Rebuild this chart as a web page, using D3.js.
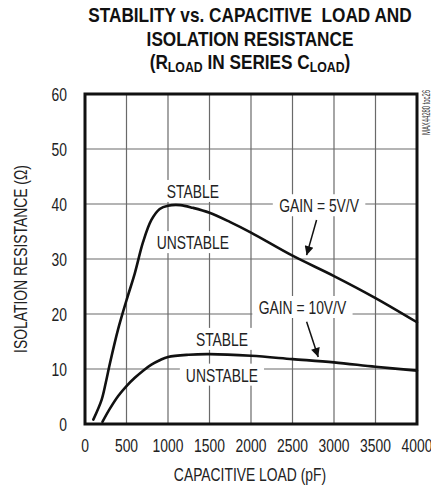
<!DOCTYPE html>
<html>
<head>
<meta charset="utf-8">
<script src="https://cdn.jsdelivr.net/npm/d3@7"></script>
<style>
body { margin: 0; background: #fff; }
svg { display: block; font-family: "Liberation Sans", Arial, sans-serif; }
</style>
</head>
<body>
<div id="chart"></div>
<script>
// values (pF, ohms)
var xTicks = [0, 500, 1000, 1500, 2000, 2500, 3000, 3500, 4000];
var yTicks = [0, 10, 20, 30, 40, 50, 60];

var gain5 = [[100, 0.8], [200, 4.4], [250, 7.5], [300, 11], [400, 17.3], [500, 22.5], [600, 27.4],
    [700, 33.1], [800, 37.1], [900, 39.1], [1000, 39.7], [1150, 39.8], [1300, 39.3], [1500, 38.4],
    [1750, 36.7], [2000, 34.8], [2500, 30.6], [3000, 26.9], [3500, 22.9], [4000, 18.5]];

var gain10 = [[210, 0.4], [300, 2.8], [400, 5.1], [500, 6.9], [600, 8.4], [700, 9.7], [800, 10.8],
    [900, 11.6], [1000, 12.2], [1250, 12.6], [1500, 12.7], [2000, 12.4], [2500, 11.8], [3000, 11.2],
    [3500, 10.4], [4000, 9.7]];

var notes = [
    {text: 'STABLE', x: 1300, y: 41.1},
    {text: 'UNSTABLE', x: 1300, y: 31.8},
    {text: 'GAIN = 5V/V', x: 2820, y: 38.5},
    {text: 'GAIN = 10V/V', x: 2620, y: 20},
    {text: 'STABLE', x: 1650, y: 14.2},
    {text: 'UNSTABLE', x: 1650, y: 7.7}
];

var arrows = [
    [[2790, 37.1], [2670, 30.7]],
    [[2670, 18.6], [2810, 12.2]]
];

var W = 431, H = 486;

var svg = d3.select('#chart').append('svg')
    .attr('width', W)
    .attr('height', H);

var x = d3.scaleLinear().domain([0, 4000]).range([85, 417]);
var y = d3.scaleLinear().domain([0, 60]).range([424, 94]);

// squeezed text, to fake the condensed face of the original
function label(parent, px, py, txt, sq, rot){
    return parent.append('text')
        .attr('transform', 'translate(' + px + ',' + py + ')' + (rot ? ' rotate(' + rot + ')' : '') + ' scale(' + sq + ',1)')
        .text(txt);
}

// title
var title = svg.append('g')
    .attr('font-weight', 'bold')
    .attr('font-size', 21)
    .attr('fill', '#111')
    .attr('text-anchor', 'middle');
label(title, 250, 22, 'STABILITY vs. CAPACITIVE\u00a0\u00a0LOAD AND', 0.82);
label(title, 250, 46, 'ISOLATION RESISTANCE', 0.82);
var t3 = label(title, 250, 69, '', 0.82);
t3.append('tspan').text('(R');
t3.append('tspan').attr('font-size', 15).attr('dy', 3).text('LOAD');
t3.append('tspan').attr('dy', -3).text(' IN SERIES C');
t3.append('tspan').attr('font-size', 15).attr('dy', 3).text('LOAD');
t3.append('tspan').attr('dy', -3).text(')');

// grid
var grid = svg.append('g').attr('stroke', '#6a6a6a').attr('stroke-width', 1.2);
grid.selectAll('.gx').data(xTicks).enter().append('line')
    .attr('x1', function(d){ return x(d); }).attr('x2', function(d){ return x(d); })
    .attr('y1', y(0)).attr('y2', y(60));
grid.selectAll('.gy').data(yTicks).enter().append('line')
    .attr('y1', function(d){ return y(d); }).attr('y2', function(d){ return y(d); })
    .attr('x1', x(0)).attr('x2', x(4000));

// tick labels
var tl = svg.append('g').attr('font-size', 18).attr('fill', '#222');
xTicks.forEach(function(d){
    label(tl, x(d), y(0) + 28, String(d), 0.77).attr('text-anchor', 'middle');
});
yTicks.forEach(function(d){
    label(tl, x(0) - 18, y(d) + 6.5, String(d), 0.77).attr('text-anchor', 'end');
});

// annotation text with white backing
var noteG = svg.append('g').attr('font-size', 19).attr('fill', '#222');
notes.forEach(function(n){
    var g = noteG.append('g');
    var t = label(g, x(n.x), y(n.y), n.text, 0.73).attr('text-anchor', 'middle');
    var w = t.node().getBBox().width * 0.73;
    g.insert('rect', 'text')
        .attr('x', x(n.x) - w / 2 - 6)
        .attr('y', y(n.y) - 18)
        .attr('width', w + 12)
        .attr('height', 22)
        .attr('fill', '#fff');
});

// curves
var line = d3.line()
    .x(function(d){ return x(d[0]); })
    .y(function(d){ return y(d[1]); })
    .curve(d3.curveCatmullRom.alpha(0.5));

[gain5, gain10].forEach(function(s){
    svg.append('path')
        .attr('d', line(s))
        .attr('fill', 'none')
        .attr('stroke', '#111')
        .attr('stroke-width', 2.6)
        .attr('stroke-linecap', 'round');
});

// frame
svg.append('rect')
    .attr('x', x(0))
    .attr('y', y(60))
    .attr('width', x(4000) - x(0))
    .attr('height', y(0) - y(60))
    .attr('fill', 'none')
    .attr('stroke', '#111')
    .attr('stroke-width', 3);

// arrows
svg.append('defs').append('marker')
    .attr('id', 'head')
    .attr('viewBox', '0 0 10 10')
    .attr('refX', 10).attr('refY', 5)
    .attr('markerUnits', 'userSpaceOnUse')
    .attr('markerWidth', 13).attr('markerHeight', 9)
    .attr('orient', 'auto')
    .append('path')
    .attr('d', 'M0,0L10,5L0,10Z')
    .attr('fill', '#111');

arrows.forEach(function(a){
    svg.append('line')
        .attr('x1', x(a[0][0])).attr('y1', y(a[0][1]))
        .attr('x2', x(a[1][0])).attr('y2', y(a[1][1]))
        .attr('stroke', '#111')
        .attr('stroke-width', 1.5)
        .attr('marker-end', 'url(#head)');
});

// axis titles
var at = svg.append('g').attr('font-size', 19).attr('fill', '#222').attr('text-anchor', 'middle');
label(at, 250, 481, 'CAPACITIVE LOAD (pF)', 0.73);
label(at, 27, 259, 'ISOLATION RESISTANCE (\u03A9)', 0.73, -90);

svg.append('text')
    .attr('transform', 'translate(430,90) rotate(-90)')
    .attr('text-anchor', 'end')
    .attr('font-size', 10).attr('fill', '#333')
    .attr('textLength', 45).attr('lengthAdjust', 'spacingAndGlyphs')
    .text('MAX44280 toc26');
</script>
</body>
</html>
